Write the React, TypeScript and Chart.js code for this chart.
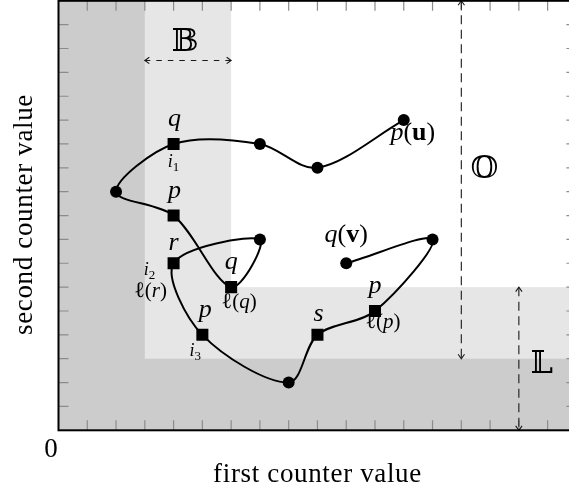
import React, { useEffect, useRef } from 'react';
import { Chart, registerables } from 'chart.js';

Chart.register(...registerables);

// ---- data ----
const pathX = [12, 9, 7, 4, 2, 4, 6, 7, 4, 5, 8, 9, 11, 13, 10];
const pathY = [13, 11, 12, 12, 10, 9, 6, 8, 7, 4, 2, 4, 5, 8, 7];
const markerKind = ['circle', 'circle', 'circle', 'rect', 'circle', 'rect', 'rect', 'circle', 'rect', 'rect', 'circle', 'rect', 'rect', 'circle', 'circle'];

const axisMin = 0;
const axisMax = 18;
const tickValues = [1, 2, 3, 4, 5, 6, 7, 8, 9, 10, 11, 12, 13, 14, 15, 16, 17];
const innerBand = 3;
const outerBand = 6;

const xTitle = 'first counter value';
const yTitle = 'second counter value';
const originLabel = '0';

// dashed double arrows: [x1, y1, x2, y2] in data units
const arrowB = [3, 15.5, 6, 15.5];
const arrowO = [14, 18, 14, 3];
const arrowL = [16, 6, 16, 0];

// region names and anchors (data units)
const regionNames = ['\u{1D539}', '\u{1D546}', '\u{1D543}'];
const regionX = [4.4, 14.8, 16.8];
const regionY = [16.35, 11.05, 2.85];

type Run = [string, string, number, number?];
// labels attached to path points: index, runs, dx, dy (px)
const pointLabels: { at: number; runs: Run[]; dx: number; dy: number }[] = [
  { at: 0, runs: [['p', 'i', 26], ['(', 'r', 26], ['u', 'b', 26], [')', 'r', 26]], dx: 9, dy: 20 },
  { at: 3, runs: [['q', 'i', 26]], dx: 1, dy: -18 },
  { at: 3, runs: [['i', 'i', 18], ['1', 'r', 13, 4]], dx: 0, dy: 23 },
  { at: 5, runs: [['p', 'i', 26]], dx: 1, dy: -18 },
  { at: 6, runs: [['q', 'i', 26]], dx: 0, dy: -18 },
  { at: 6, runs: [['\u2113', 'r', 22], ['(', 'r', 21], ['q', 'i', 21], [')', 'r', 21]], dx: 8, dy: 21 },
  { at: 8, runs: [['r', 'i', 26]], dx: 0, dy: -13 },
  { at: 8, runs: [['i', 'i', 18], ['2', 'r', 13, 4]], dx: -24, dy: 12 },
  { at: 8, runs: [['\u2113', 'r', 22], ['(', 'r', 21], ['r', 'i', 21], [')', 'r', 21]], dx: -23, dy: 34 },
  { at: 9, runs: [['p', 'i', 26]], dx: 3, dy: -18 },
  { at: 9, runs: [['i', 'i', 18], ['3', 'r', 13, 4]], dx: -7, dy: 21 },
  { at: 11, runs: [['s', 'i', 26]], dx: 1, dy: -14 },
  { at: 12, runs: [['p', 'i', 26]], dx: 0, dy: -18 },
  { at: 12, runs: [['\u2113', 'r', 22], ['(', 'r', 21], ['p', 'i', 21], [')', 'r', 21]], dx: 8, dy: 17 },
  { at: 14, runs: [['q', 'i', 26], ['(', 'r', 26], ['v', 'b', 26], [')', 'r', 26]], dx: 0, dy: -21 },
];

const SERIF = '"Liberation Serif", "DejaVu Serif", serif';
const BB = '"DejaVu Serif", "DejaVu Sans", serif';

function fontOf(style: string, size: number) {
  if (style === 'i') return `italic ${size}px ${SERIF}`;
  if (style === 'b') return `bold ${size}px ${SERIF}`;
  return `${size}px ${SERIF}`;
}

function drawRuns(ctx: CanvasRenderingContext2D, runs: Run[], cx: number, base: number) {
  const widths = runs.map(([t, s, z]) => {
    ctx.font = fontOf(s, z);
    return ctx.measureText(t).width;
  });
  const total = widths.reduce((a, b) => a + b, 0);
  let xx = cx - total / 2;
  ctx.textAlign = 'left';
  ctx.textBaseline = 'alphabetic';
  runs.forEach(([t, s, z, d], i) => {
    ctx.font = fontOf(s, z);
    ctx.fillText(t, xx, base + (d || 0));
    xx += widths[i];
  });
}

function arrowHead(ctx: CanvasRenderingContext2D, tx: number, ty: number, fx: number, fy: number) {
  const ang = Math.atan2(ty - fy, tx - fx);
  const len = 5.5;
  const spread = 0.62;
  ctx.beginPath();
  ctx.moveTo(tx - len * Math.cos(ang - spread), ty - len * Math.sin(ang - spread));
  ctx.lineTo(tx, ty);
  ctx.lineTo(tx - len * Math.cos(ang + spread), ty - len * Math.sin(ang + spread));
  ctx.stroke();
}

const decor = {
  id: 'decor',
  beforeDatasetsDraw(chart: any) {
    const { ctx, scales } = chart;
    const X = (v: number) => scales.x.getPixelForValue(v);
    const Y = (v: number) => scales.y.getPixelForValue(v);
    ctx.save();
    // shaded bands
    ctx.fillStyle = '#e6e6e6';
    ctx.fillRect(X(axisMin), Y(axisMax), X(outerBand) - X(axisMin), Y(axisMin) - Y(axisMax));
    ctx.fillRect(X(axisMin), Y(outerBand), X(axisMax) - X(axisMin), Y(axisMin) - Y(outerBand));
    ctx.fillStyle = '#cccccc';
    ctx.fillRect(X(axisMin), Y(axisMax), X(innerBand) - X(axisMin), Y(axisMin) - Y(axisMax));
    ctx.fillRect(X(axisMin), Y(innerBand), X(axisMax) - X(axisMin), Y(axisMin) - Y(innerBand));

    // inward tick marks on all four sides
    ctx.strokeStyle = '#8c8c8c';
    ctx.lineWidth = 1.2;
    const tl = 10;
    ctx.beginPath();
    tickValues.forEach((v) => {
      const px = X(v);
      ctx.moveTo(px, Y(axisMin));
      ctx.lineTo(px, Y(axisMin) - tl);
      ctx.moveTo(px, Y(axisMax));
      ctx.lineTo(px, Y(axisMax) + tl);
      const py = Y(v);
      ctx.moveTo(X(axisMin), py);
      ctx.lineTo(X(axisMin) + tl, py);
      ctx.moveTo(X(axisMax), py);
      ctx.lineTo(X(axisMax) - tl, py);
    });
    ctx.stroke();

    // dashed double arrows
    ctx.strokeStyle = '#1a1a1a';
    ctx.lineWidth = 1.1;
    [arrowB, arrowO, arrowL].forEach(([a, b, c, d], k) => {
      const x1 = X(a), y1 = Y(b), x2 = X(c), y2 = Y(d);
      ctx.setLineDash(k === 0 ? [5.5, 6] : [9, 5.5]);
      ctx.beginPath();
      ctx.moveTo(x1, y1);
      ctx.lineTo(x2, y2);
      ctx.stroke();
      ctx.setLineDash([]);
      arrowHead(ctx, x1, y1, x2, y2);
      arrowHead(ctx, x2, y2, x1, y1);
    });

    // region names
    ctx.fillStyle = '#000';
    ctx.font = `32px ${BB}`;
    ctx.textAlign = 'center';
    ctx.textBaseline = 'alphabetic';
    regionNames.forEach((t, i) => {
      ctx.fillText(t, X(regionX[i]), Y(regionY[i]) + 11);
    });
    ctx.restore();
  },
  afterDatasetsDraw(chart: any) {
    const { ctx, scales } = chart;
    const X = (v: number) => scales.x.getPixelForValue(v);
    const Y = (v: number) => scales.y.getPixelForValue(v);
    ctx.save();
    // frame
    ctx.strokeStyle = '#000';
    ctx.lineWidth = 2;
    ctx.strokeRect(X(axisMin), Y(axisMax), X(axisMax) - X(axisMin), Y(axisMin) - Y(axisMax));

    // point labels
    ctx.fillStyle = '#000';
    pointLabels.forEach((l) => {
      drawRuns(ctx, l.runs, X(pathX[l.at]) + l.dx, Y(pathY[l.at]) + l.dy);
    });

    // axis texts
    ctx.font = `27px ${SERIF}`;
    ctx.textAlign = 'center';
    ctx.textBaseline = 'alphabetic';
    ctx.fillText(originLabel, X(axisMin) - 7.5, Y(axisMin) + 26.5);
    (ctx as any).letterSpacing = '0.65px';
    ctx.fillText(xTitle, 317.5, 481.5);
    ctx.translate(32, 214.5);
    ctx.rotate(-Math.PI / 2);
    ctx.fillText(yTitle, 0, 0);
    ctx.restore();
  },
};

export default function App() {
  const ref = useRef<HTMLCanvasElement | null>(null);
  useEffect(() => {
    if (!ref.current) return;
    const chart = new Chart(ref.current, {
      type: 'scatter',
      data: {
        datasets: [
          {
            data: pathX.map((x, i) => ({ x, y: pathY[i] })),
            showLine: true,
            tension: 0.32,
            borderColor: '#000',
            borderWidth: 2,
            pointStyle: markerKind as any,
            pointRadius: markerKind.map((k) => (k === 'rect' ? 8.5 : 6)),
            pointHoverRadius: markerKind.map((k) => (k === 'rect' ? 8.5 : 6)),
            pointBackgroundColor: '#000',
            pointBorderColor: '#000',
            pointBorderWidth: 0,
          } as any,
        ],
      },
      options: {
        responsive: false,
        animation: false,
        events: [],
        layout: {
          autoPadding: false,
          padding: { left: 58.5, top: 0.8, right: 600 - 576.4, bottom: 489 - 430.3 },
        },
        scales: {
          x: { type: 'linear', min: axisMin, max: axisMax, display: false },
          y: { type: 'linear', min: axisMin, max: axisMax, display: false },
        },
        plugins: { legend: { display: false }, tooltip: { enabled: false } },
      },
      plugins: [decor],
    });
    return () => chart.destroy();
  }, []);
  return (
    <div style={{ position: 'fixed', left: 0, top: 0, width: 569, height: 489, overflow: 'hidden', background: '#fff' }}>
      <canvas ref={ref} width={600} height={489} style={{ display: 'block' }} />
    </div>
  );
}
